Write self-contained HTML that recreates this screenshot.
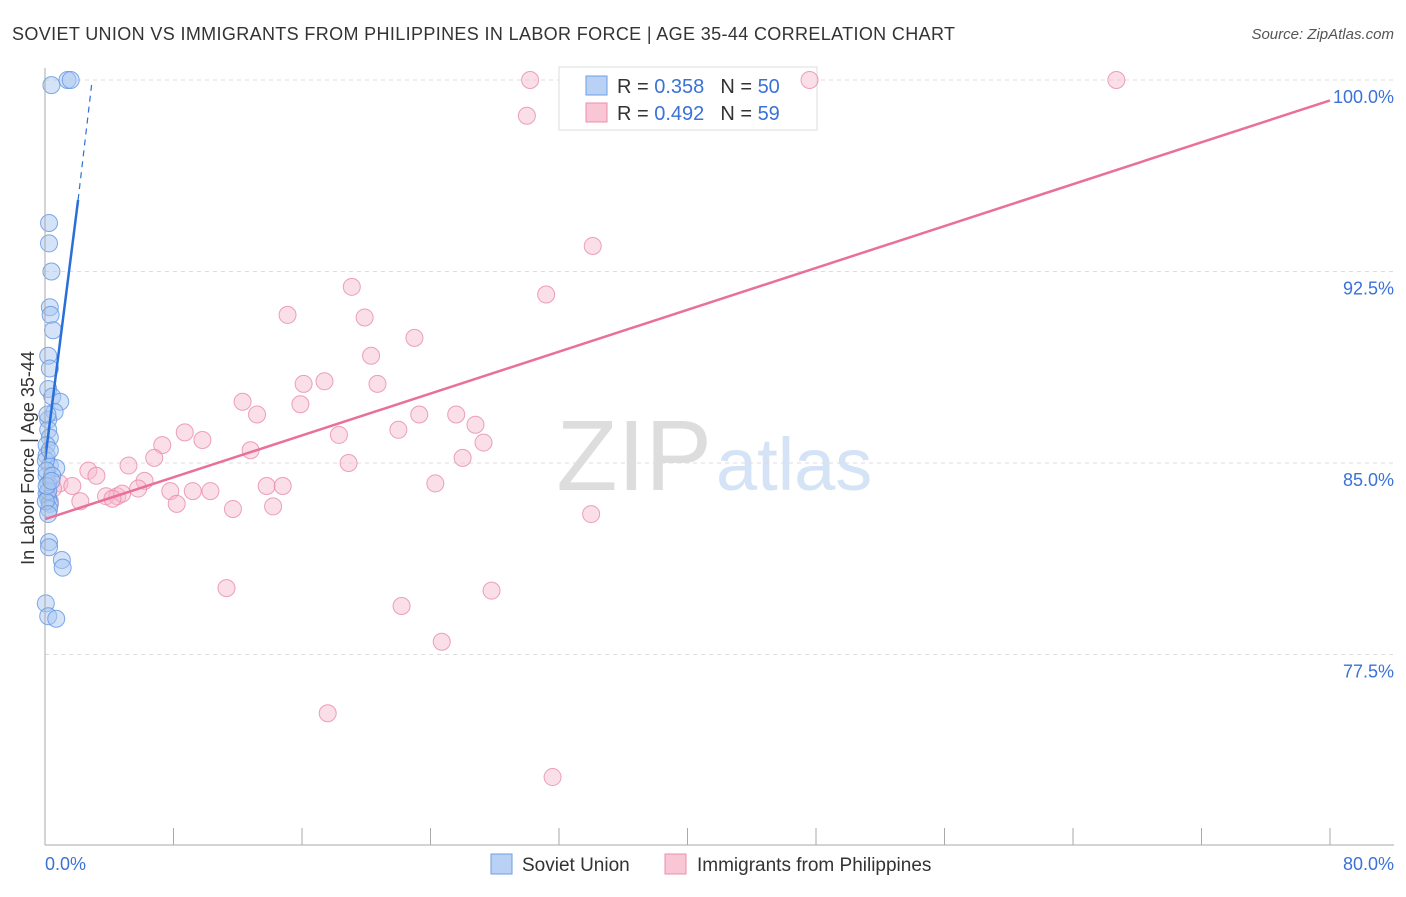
<!DOCTYPE html>
<html><head><meta charset="utf-8"><style>
body{margin:0;background:#fff;font-family:"Liberation Sans",sans-serif}
svg text{font-family:"Liberation Sans",sans-serif}
</style></head><body>
<svg id="c" width="1406" height="892">
<text x="12" y="40" font-size="18" fill="#333" textLength="943">SOVIET UNION VS IMMIGRANTS FROM PHILIPPINES IN LABOR FORCE | AGE 35-44 CORRELATION CHART</text>
<text x="1394" y="39" font-size="15" fill="#555" text-anchor="end" font-style="italic">Source: ZipAtlas.com</text>
<text x="34" y="458" font-size="18" fill="#333" text-anchor="middle" transform="rotate(-90 34 458)">In Labor Force | Age 35-44</text>
<text x="712" y="490" font-size="100" fill="#ddd" text-anchor="end" font-family="Liberation Serif">ZIP</text>
<text x="716" y="490" font-size="74" fill="#d4e3f5">atlas</text>
<g id="grid"></g>
<g>
<rect x="559" y="67" width="258" height="63" fill="#fff" stroke="#ddd"/>
<rect x="586" y="76" width="21" height="19" fill="#b9d1f5" stroke="#6d9ee6"/>
<rect x="586" y="103" width="21" height="19" fill="#f9c6d6" stroke="#eb8fae"/>
<text x="617" y="93" font-size="20" fill="#333">R = <tspan fill="#3a72d8">0.358</tspan><tspan dx="16">N = </tspan><tspan fill="#3a72d8">50</tspan></text>
<text x="617" y="120" font-size="20" fill="#333">R = <tspan fill="#3a72d8">0.492</tspan><tspan dx="16">N = </tspan><tspan fill="#3a72d8">59</tspan></text>
</g>
<g id="pts"></g><g id="lines"></g>
<line x1="45" y1="68" x2="45" y2="845" stroke="#aaa"/>
<line x1="45" y1="845" x2="1394" y2="845" stroke="#aaa"/>
<text x="45" y="870" font-size="18" fill="#3a72d8">0.0%</text>
<text x="1394" y="870" font-size="18" fill="#3a72d8" text-anchor="end">80.0%</text>
<g>
<rect x="491" y="854" width="21" height="20" fill="#b9d1f5" stroke="#6d9ee6"/>
<text x="522" y="871" font-size="19" fill="#333">Soviet Union</text>
<rect x="665" y="854" width="21" height="20" fill="#f9c6d6" stroke="#eb8fae"/>
<text x="697" y="871" font-size="19" fill="#333">Immigrants from Philippines</text>
</g>
</svg>
<script>
const yTicks=[100,92.5,85,77.5];
const xTicks=[0,8,16,24,32,40,48,56,64,72,80];
const soviet=[[0.4,99.8],[1.4,100],[1.6,100],[0.25,94.4],[0.25,93.6],[0.4,92.5],[0.3,91.1],[0.35,90.8],[0.5,90.2],[0.2,89.2],[0.3,88.7],[0.2,87.9],[0.45,87.6],[0.95,87.4],[0.6,87],[0.2,86.7],[0.2,86.3],[0.3,86],[0.1,85.7],[0.1,85.3],[0.3,84.9],[0.7,84.8],[0.1,84.5],[0.2,84.2],[0.1,83.8],[0.2,83.6],[0.3,83.4],[0.25,83.2],[0.25,81.9],[0.25,81.7],[1.05,81.2],[1.1,80.9],[0.05,79.5],[0.2,79],[0.7,78.9],[0.05,85.1],[0.1,84.7],[0.45,84.5],[0.2,83.9],[0.05,83.5],[0.15,86.9],[0.3,85.5],[0.1,84.1],[0.4,84.3],[0.2,83]];
const phil=[[30.2,100],[47.6,100],[66.7,100],[30,98.6],[34.1,93.5],[19.1,91.9],[31.2,91.6],[15.1,90.8],[19.9,90.7],[23,89.9],[20.3,89.2],[16.1,88.1],[20.7,88.1],[17.4,88.2],[12.3,87.4],[15.9,87.3],[13.2,86.9],[23.3,86.9],[25.6,86.9],[26.8,86.5],[22,86.3],[8.7,86.2],[18.3,86.1],[9.8,85.9],[27.3,85.8],[7.3,85.7],[12.8,85.5],[6.8,85.2],[26,85.2],[18.9,85],[5.2,84.9],[2.7,84.7],[3.2,84.5],[6.2,84.3],[0.9,84.2],[1.7,84.1],[5.8,84],[13.8,84.1],[14.8,84.1],[24.3,84.2],[7.8,83.9],[9.2,83.9],[10.3,83.9],[3.8,83.7],[4.5,83.7],[4.8,83.8],[4.2,83.6],[2.2,83.5],[8.2,83.4],[11.7,83.2],[14.2,83.3],[34,83],[0.3,83.5],[11.3,80.1],[22.2,79.4],[27.8,80],[24.7,78],[17.6,75.2],[31.6,72.7],[0.5,84]];
const sovLine=[[0,85.1],[2.06,95.3]],sovDash=[[2.06,95.3],[2.9,99.8]];
const philLine=[[0,82.8],[80,99.2]];
const X=v=>45+v/80*1285, Y=v=>80+(100-v)/7.5*191.5;
const ns="http://www.w3.org/2000/svg";
function mk(t,a,p){const e=document.createElementNS(ns,t);for(const k in a)e.setAttribute(k,a[k]);document.getElementById(p).appendChild(e);return e;}
yTicks.forEach(v=>{
 const l=mk('line',{x1:45,x2:1394,y1:Y(v),y2:Y(v),stroke:'#ddd','stroke-dasharray':'4,4'},'grid');
 
 
 const t=mk('text',{x:1394,y:Y(v)+23,'font-size':18,fill:'#3a72d8','text-anchor':'end'},'grid');
 t.textContent=v.toFixed(1)+'%';
 
 
});
xTicks.forEach(v=>{
 const l=mk('line',{x1:X(v),x2:X(v),y1:828,y2:845,stroke:'#aaa'},'grid');
 
 
});
phil.forEach(p=>{
 const c=mk('circle',{cx:X(p[0]),cy:Y(p[1]),r:8.5,fill:'#f7b8cc','fill-opacity':0.45,stroke:'#e88aa9','stroke-opacity':0.8},'pts');
 
 
});
soviet.forEach(p=>{
 const c=mk('circle',{cx:X(p[0]),cy:Y(p[1]),r:8.5,fill:'#a9c7f2','fill-opacity':0.5,stroke:'#5f95e3','stroke-opacity':0.8},'pts');
 
 
});
let l=mk('line',{x1:X(philLine[0][0]),y1:Y(philLine[0][1]),x2:X(philLine[1][0]),y2:Y(philLine[1][1]),stroke:'#e8709a','stroke-width':2.5},'lines');


l=mk('line',{x1:X(sovLine[0][0]),y1:Y(sovLine[0][1]),x2:X(sovLine[1][0]),y2:Y(sovLine[1][1]),stroke:'#2a6fd9','stroke-width':2.5},'lines');


l=mk('line',{x1:X(sovDash[0][0]),y1:Y(sovDash[0][1]),x2:X(sovDash[1][0]),y2:Y(sovDash[1][1]),stroke:'#2a6fd9','stroke-width':1.2,'stroke-dasharray':'6,5'},'lines');


</script>
</body></html>
